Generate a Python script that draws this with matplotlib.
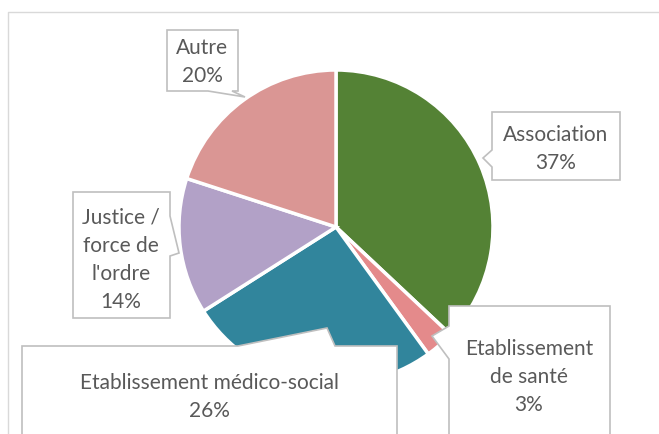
import numpy as np
import matplotlib.pyplot as plt
from matplotlib.patches import Polygon

# Datos
categories = ['Association', 'Etablissement\nde santé', 'Etablissement médico-social',
              'Justice /\nforce de\nl\'ordre', 'Autre']
values = [37, 3, 26, 14, 20]
colors = ['#548235', '#E48A8B', '#31859C', '#B2A1C7', '#DA9694']

W, H = 659, 435
fig = plt.figure(figsize=(W / 100, H / 100), dpi=100)

# Pie: centro (336, 228) px, radio 157 px
cx, cy, r = 336, 228, 157
ax = fig.add_axes([(cx - r) / W, (H - cy - r) / H, 2 * r / W, 2 * r / H])
ax.pie(values, colors=colors, startangle=90, counterclock=False,
       wedgeprops=dict(edgecolor='white', linewidth=2.5))
ax.set_xlim(-1, 1)
ax.set_ylim(-1, 1)
ax.set_aspect('auto')

# Capa superior en pixeles para marco y etiquetas
ov = fig.add_axes([0, 0, 1, 1], zorder=5)
ov.set_xlim(0, W)
ov.set_ylim(H, 0)
ov.axis('off')
ov.patch.set_alpha(0)

# marco del grafico
ov.plot([8, 8, W], [H, 13, 13], color='#D9D9D9', lw=1)

# cajas: (x0, y0, x1, y1), puntero (base1, punta, base2)
boxes = [
    ((492, 113, 620, 181), ((492, 151), (483, 159), (492, 168))),
    ((449, 307, 610, 440), ((449, 327), (432, 337), (449, 360))),
    ((22, 347, 397, 440), ((238, 347), (327, 329), (335, 347))),
    ((73, 193, 170, 319), ((170, 217), (179, 254), (170, 257))),
    ((167, 31, 238, 92), ((208, 92), (245, 98), (232, 92))),
]


def callout(rect, ptr):
    x0, y0, x1, y1 = rect
    p1, tip, p2 = ptr
    # insertar el puntero en el lado correcto
    if p1[0] == x1 and p2[0] == x1:      # derecha
        pts = [(x0, y0), (x1, y0), p1, tip, p2, (x1, y1), (x0, y1)]
    elif p1[0] == x0 and p2[0] == x0:    # izquierda
        pts = [(x0, y0), (x1, y0), (x1, y1), (x0, y1), p2, tip, p1]
    elif p1[1] == y0:                     # arriba
        pts = [(x0, y0), p1, tip, p2, (x1, y0), (x1, y1), (x0, y1)]
    else:                                 # abajo
        pts = [(x0, y0), (x1, y0), (x1, y1), p2, tip, p1, (x0, y1)]
    ov.add_patch(Polygon(pts, closed=True, facecolor='white',
                         edgecolor='#BFBFBF', lw=1.2))


text_pos = [(556, 149), (529, 377), (209, 397), (121, 260), (202, 62)]
for cat, v, (rect, ptr), (tx, ty) in zip(categories, values, boxes, text_pos):
    callout(rect, ptr)
    ov.text(tx, ty, f'{cat}\n{v / sum(values):.0%}', ha='center', va='center',
            fontsize=15, color='#595959', family='Lato', linespacing=1.5)

fig.savefig('out.png', dpi=100)
